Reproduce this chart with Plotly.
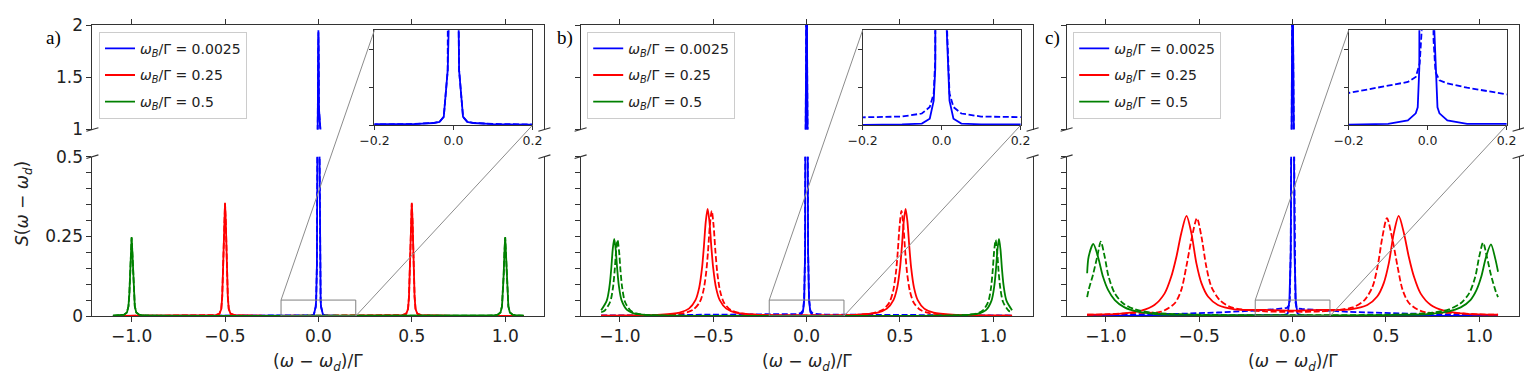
import plotly.graph_objects as go

# ---------------- data ----------------
# panel a
a_blue_x = [-1.1, -0.6, -0.3, -0.2, -0.1, -0.05, -0.035, -0.0244, -0.0144, -0.012, -0.008, -0.005, -0.003, -0.0015, 0,
            0.0015, 0.003, 0.005, 0.008, 0.012, 0.0144, 0.0244, 0.035, 0.05, 0.1, 0.2, 0.3, 0.6, 1.1]
a_blue_solid = [0.0001, 0.0002, 0.0003, 0.0003, 0.0006, 0.0012, 0.0018, 0.0044, 0.029, 0.05, 0.16, 0.6, 1.2, 1.75, 1.95,
                1.75, 1.2, 0.6, 0.16, 0.05, 0.029, 0.0044, 0.0018, 0.0012, 0.0006, 0.0003, 0.0003, 0.0002, 0.0001]
a_blue_dashed = [0.0001, 0.0002, 0.0003, 0.0004, 0.0007, 0.0013, 0.0019, 0.0045, 0.029, 0.05, 0.16, 0.59, 1.19, 1.73, 1.93,
                 1.73, 1.19, 0.59, 0.16, 0.05, 0.029, 0.0045, 0.0019, 0.0013, 0.0007, 0.0004, 0.0003, 0.0002, 0.0001]
a_red_x = [-1.1, -0.75, -0.62, -0.55, -0.53, -0.52, -0.515, -0.511, -0.508, -0.504, -0.5, -0.496, -0.492, -0.489, -0.485,
           -0.48, -0.47, -0.45, -0.38, -0.25, 0, 0.25, 0.38, 0.45, 0.47, 0.48, 0.485, 0.489, 0.492, 0.496, 0.5, 0.504,
           0.508, 0.511, 0.515, 0.52, 0.53, 0.55, 0.62, 0.75, 1.1]
a_red_solid = [0.0002, 0.0004, 0.001, 0.0025, 0.007, 0.022, 0.06, 0.13, 0.2, 0.30, 0.355, 0.30, 0.2, 0.13, 0.06,
               0.022, 0.007, 0.0025, 0.001, 0.0005, 0.0006, 0.0005, 0.001, 0.0025, 0.007, 0.022, 0.06, 0.13, 0.2, 0.30,
               0.355, 0.30, 0.2, 0.13, 0.06, 0.022, 0.007, 0.0025, 0.001, 0.0004, 0.0002]
a_red_dashed = [0.0002, 0.0004, 0.001, 0.0026, 0.0072, 0.023, 0.061, 0.13, 0.2, 0.297, 0.352, 0.297, 0.2, 0.13, 0.061,
                0.023, 0.0072, 0.0026, 0.001, 0.0005, 0.0006, 0.0005, 0.001, 0.0026, 0.0072, 0.023, 0.061, 0.13, 0.2,
                0.297, 0.352, 0.297, 0.2, 0.13, 0.061, 0.023, 0.0072, 0.0026, 0.001, 0.0004, 0.0002]
a_green_x = [-1.1, -1.07, -1.04, -1.025, -1.017, -1.012, -1.008, -1.004, -1.0, -0.996, -0.992, -0.988, -0.983, -0.975,
             -0.96, -0.93, -0.88, -0.6, 0, 0.6, 0.88, 0.93, 0.96, 0.975, 0.983, 0.988, 0.992, 0.996, 1.0, 1.004, 1.008,
             1.012, 1.017, 1.025, 1.04, 1.07, 1.1]
a_green_solid = [0.0008, 0.0015, 0.004, 0.011, 0.03, 0.07, 0.13, 0.2, 0.248, 0.2, 0.13, 0.07, 0.03, 0.011,
                 0.004, 0.0015, 0.0008, 0.0003, 0.0002, 0.0003, 0.0008, 0.0015, 0.004, 0.011, 0.03, 0.07, 0.13, 0.2,
                 0.248, 0.2, 0.13, 0.07, 0.03, 0.011, 0.004, 0.0015, 0.0008]
a_green_dashed = [0.0008, 0.0015, 0.0041, 0.0112, 0.031, 0.07, 0.129, 0.198, 0.245, 0.198, 0.129, 0.07, 0.031, 0.0112,
                  0.0041, 0.0015, 0.0008, 0.0003, 0.0002, 0.0003, 0.0008, 0.0015, 0.0041, 0.0112, 0.031, 0.07, 0.129,
                  0.198, 0.245, 0.198, 0.129, 0.07, 0.031, 0.0112, 0.0041, 0.0015, 0.0008]

# panel b
b_blue_x = [-1.1, -0.6, -0.3, -0.2, -0.1, -0.05, -0.03, -0.02, -0.016, -0.013, -0.008, -0.005, -0.003, -0.0015, 0,
            0.0015, 0.003, 0.005, 0.008, 0.013, 0.016, 0.02, 0.03, 0.05, 0.1, 0.2, 0.3, 0.6, 1.1]
b_blue_solid = [0.0001, 0.0001, 0.0002, 0.0002, 0.0005, 0.0009, 0.0035, 0.013, 0.03, 0.05, 0.2, 0.7, 1.6, 2.6, 3.0,
                2.6, 1.6, 0.7, 0.2, 0.05, 0.03, 0.013, 0.0035, 0.0009, 0.0005, 0.0002, 0.0002, 0.0001, 0.0001]
b_blue_dashed = [0.0015, 0.0028, 0.0038, 0.0042, 0.0046, 0.0062, 0.0096, 0.0167, 0.035, 0.055, 0.2, 0.7, 1.6, 2.5, 2.9,
                 2.5, 1.6, 0.7, 0.2, 0.055, 0.035, 0.0167, 0.0096, 0.0062, 0.0046, 0.0042, 0.0038, 0.0028, 0.0015]
b_red_solid_x = [-1.1, -0.93, -0.78, -0.68, -0.63, -0.595, -0.575, -0.56, -0.55, -0.54, -0.53, -0.52, -0.51, -0.50,
                 -0.485, -0.465, -0.43, -0.38, -0.28, -0.13, 0, 0.13, 0.28, 0.38, 0.43, 0.465, 0.485, 0.50, 0.51, 0.52,
                 0.53, 0.54, 0.55, 0.56, 0.575, 0.595, 0.63, 0.68, 0.78, 0.93, 1.1]
b_red_solid = [0.0009, 0.0016, 0.004, 0.0107, 0.0232, 0.0497, 0.089, 0.15, 0.217, 0.2955, 0.336, 0.2955, 0.217, 0.15,
               0.089, 0.0497, 0.0232, 0.0107, 0.0042, 0.0018, 0.0018, 0.0018, 0.0042, 0.0107, 0.0232, 0.0497, 0.089,
               0.15, 0.217, 0.2955, 0.336, 0.2955, 0.217, 0.15, 0.089, 0.0497, 0.0232, 0.0107, 0.004, 0.0016, 0.0009]
b_red_dashed_x = [-1.1, -0.908, -0.758, -0.658, -0.608, -0.573, -0.553, -0.538, -0.528, -0.518, -0.508, -0.498, -0.488,
                  -0.478, -0.463, -0.443, -0.408, -0.358, -0.258, -0.108, 0, 0.108, 0.258, 0.358, 0.408, 0.443, 0.463,
                  0.478, 0.488, 0.498, 0.508, 0.518, 0.528, 0.538, 0.553, 0.573, 0.608, 0.658, 0.758, 0.908, 1.1]
b_red_dashed = [0.0008, 0.0013, 0.0033, 0.0089, 0.0194, 0.0425, 0.078, 0.135, 0.201, 0.284, 0.330, 0.284, 0.201, 0.135,
                0.078, 0.0425, 0.0194, 0.0089, 0.0035, 0.0017, 0.0016, 0.0017, 0.0035, 0.0089, 0.0194, 0.0425, 0.078,
                0.135, 0.201, 0.284, 0.330, 0.284, 0.201, 0.135, 0.078, 0.0425, 0.0194, 0.0089, 0.0033, 0.0013, 0.0008]
b_green_solid_x = [-1.1, -1.07, -1.055, -1.046, -1.038, -1.03, -1.022, -1.014, -1.005, -0.99, -0.96, -0.93, -0.88,
                   -0.78, -0.58, 0, 0.58, 0.78, 0.88, 0.93, 0.96, 0.99, 1.005, 1.014, 1.022, 1.03, 1.038, 1.046, 1.055,
                   1.07, 1.1]
b_green_solid = [0.0183, 0.0484, 0.0945, 0.1476, 0.209, 0.242, 0.209, 0.1476, 0.0945, 0.0484, 0.0183, 0.0093, 0.0042,
                 0.0015, 0.0006, 0.0003, 0.0006, 0.0015, 0.0042, 0.0093, 0.0183, 0.0484, 0.0945, 0.1476, 0.209, 0.242,
                 0.209, 0.1476, 0.0945, 0.0484, 0.0183]
b_green_dashed_x = [-1.1, -1.082, -1.052, -1.037, -1.028, -1.02, -1.012, -1.004, -0.996, -0.987, -0.972, -0.942, -0.912,
                    -0.862, -0.762, -0.56, 0, 0.56, 0.762, 0.862, 0.912, 0.942, 0.972, 0.987, 0.996, 1.004, 1.012, 1.02,
                    1.028, 1.037, 1.052, 1.082, 1.1]
b_green_dashed = [0.0118, 0.0164, 0.0439, 0.0874, 0.1396, 0.2027, 0.2386, 0.2027, 0.1396, 0.0874, 0.0439, 0.0164,
                  0.0083, 0.0038, 0.0014, 0.0005, 0.0003, 0.0005, 0.0014, 0.0038, 0.0083, 0.0164, 0.0439, 0.0874,
                  0.1396, 0.2027, 0.2386, 0.2027, 0.1396, 0.0874, 0.0439, 0.0164, 0.0118]

# panel c
c_blue_solid_x = [-1.1, -0.5, -0.2, -0.1, -0.05, -0.03, -0.025, -0.021, -0.017, -0.01, -0.006, -0.003, 0, 0.003, 0.006,
                  0.01, 0.017, 0.021, 0.025, 0.03, 0.05, 0.1, 0.2, 0.5, 1.1]
c_blue_solid = [0.0001, 0.0002, 0.0004, 0.0008, 0.0026, 0.0063, 0.0095, 0.03, 0.05, 0.2, 0.7, 1.8, 3.0, 1.8, 0.7, 0.2,
                0.05, 0.03, 0.0095, 0.0063, 0.0026, 0.0008, 0.0004, 0.0002, 0.0001]
c_blue_dashed_x = [-1.1, -0.8, -0.6, -0.4, -0.3, -0.2, -0.1, -0.05, -0.03, -0.02, -0.015, -0.01, -0.006, -0.003, 0,
                   0.003, 0.006, 0.01, 0.015, 0.02, 0.03, 0.05, 0.1, 0.2, 0.3, 0.4, 0.6, 0.8, 1.1]
c_blue_dashed = [0.003, 0.005, 0.007, 0.011, 0.013, 0.017, 0.021, 0.0228, 0.0254, 0.0326, 0.05, 0.2, 0.7, 1.8, 3.0,
                 1.8, 0.7, 0.2, 0.045, 0.028, 0.0237, 0.022, 0.0198, 0.0163, 0.013, 0.011, 0.007, 0.005, 0.003]
c_red_solid_x = [-1.1, -1.0, -0.9, -0.81, -0.74, -0.685, -0.65, -0.622, -0.596, -0.568, -0.542, -0.515, -0.488, -0.453,
                 -0.4, -0.31, -0.15, 0, 0.15, 0.31, 0.4, 0.453, 0.488, 0.515, 0.542, 0.568, 0.596, 0.622, 0.65, 0.685,
                 0.74, 0.81, 0.9, 1.0, 1.1]
c_red_solid = [0.004, 0.0048, 0.0085, 0.0167, 0.0345, 0.071, 0.123, 0.186, 0.26, 0.314, 0.26, 0.165, 0.103, 0.061,
               0.0345, 0.021, 0.019, 0.017, 0.019, 0.021, 0.0345, 0.061, 0.103, 0.165, 0.26, 0.314, 0.26, 0.186, 0.123,
               0.071, 0.0345, 0.0167, 0.0085, 0.0048, 0.004]
c_red_dashed_x = [-1.1, -1.0, -0.866, -0.703, -0.631, -0.596, -0.569, -0.542, -0.512, -0.488, -0.462, -0.435, -0.39,
                  -0.328, -0.15, 0, 0.15, 0.322, 0.385, 0.428, 0.455, 0.481, 0.505, 0.535, 0.562, 0.589, 0.624, 0.696,
                  0.86, 1.0, 1.1]
c_red_dashed = [0.004, 0.005, 0.0094, 0.0136, 0.04, 0.082, 0.155, 0.239, 0.307, 0.249, 0.155, 0.092, 0.05, 0.027, 0.0145,
                0.0135, 0.0145, 0.027, 0.05, 0.092, 0.155, 0.249, 0.307, 0.239, 0.155, 0.082, 0.04, 0.0136, 0.0094,
                0.005, 0.004]
c_green_solid_x = [-1.1, -1.092, -1.067, -1.042, -1.015, -0.988, -0.952, -0.9, -0.828, -0.738, -0.5, 0, 0.5, 0.738,
                   0.828, 0.9, 0.952, 0.985, 1.01, 1.036, 1.062, 1.085, 1.1]
c_green_solid = [0.134, 0.186, 0.226, 0.186, 0.123, 0.082, 0.05, 0.027, 0.0135, 0.0063, 0.003, 0.002, 0.003, 0.0063,
                 0.0135, 0.027, 0.05, 0.082, 0.123, 0.186, 0.225, 0.18, 0.139]
c_green_dashed_x = [-1.1, -1.092, -1.069, -1.046, -1.027, -1.006, -0.985, -0.952, -0.908, -0.845, -0.756, -0.5, 0, 0.5,
                    0.75, 0.838, 0.9, 0.945, 0.978, 0.999, 1.02, 1.04, 1.062, 1.085, 1.1]
c_green_dashed = [0.059, 0.082, 0.129, 0.186, 0.233, 0.186, 0.123, 0.071, 0.04, 0.021, 0.0105, 0.004, 0.003, 0.004,
                  0.0105, 0.021, 0.04, 0.071, 0.123, 0.186, 0.23, 0.186, 0.129, 0.082, 0.059]

# labels / ticks
panel_labels = ["a)", "b)", "c)"]
legend_values = ["0.0025", "0.25", "0.5"]
series_colors = ["#0000ff", "#ff0000", "#008000"]
main_xticks = [-1.0, -0.5, 0.0, 0.5, 1.0]
main_xticktext = ["\u22121.0", "\u22120.5", "0.0", "0.5", "1.0"]
upper_yticks = [1, 1.5, 2]
upper_yticktext = ["1", "1.5", "2"]
lower_yticks = [0, 0.25, 0.5]
lower_yticktext = ["0", "0.25", "0.5"]
lower_minor_yticks = [0.05, 0.1, 0.15, 0.2, 0.3, 0.35, 0.4, 0.45]
inset_xticks = [-0.2, 0.0, 0.2]
inset_xticktext = ["\u22120.2", "0.0", "0.2"]
inset_yticks = [0, 0.02, 0.04]

main_xrange = [-1.21, 1.21]
upper_yrange = [1, 2]
lower_yrange = [0, 0.5]
inset_xrange = [-0.2, 0.2]
inset_yrange = [0, 0.05]

panels = [
    dict(blue=(a_blue_x, a_blue_solid, a_blue_x, a_blue_dashed),
         red=(a_red_x, a_red_solid, a_red_x, a_red_dashed),
         green=(a_green_x, a_green_solid, a_green_x, a_green_dashed), smooth=False),
    dict(blue=(b_blue_x, b_blue_solid, b_blue_x, b_blue_dashed),
         red=(b_red_solid_x, b_red_solid, b_red_dashed_x, b_red_dashed),
         green=(b_green_solid_x, b_green_solid, b_green_dashed_x, b_green_dashed), smooth=True),
    dict(blue=(c_blue_solid_x, c_blue_solid, c_blue_dashed_x, c_blue_dashed),
         red=(c_red_solid_x, c_red_solid, c_red_dashed_x, c_red_dashed),
         green=(c_green_solid_x, c_green_solid, c_green_dashed_x, c_green_dashed), smooth=True),
]

# ---------------- layout geometry (reference-image pixels) ----------------
PAGE_OFF = 8                      # page body margin
W, H = 1532 - 2 * PAGE_OFF, 389 - 2 * PAGE_OFF
PANEL_LEFT = [92.4, 580.6, 1066.6]
PANEL_W = 452.0
Y_TOP, Y_UP_BOT, Y_LOW_TOP, Y_BOT = 25.0, 129.5, 156.7, 316.0
INSET_REL = (282.0, 440.0)
INSET_Y = (30.3, 125.3)
LEGEND_REL_X, LEGEND_TOP = 6.6, 31.7

LINE_W = 1.8
DASH = "6px,2.6px"
AX_COLOR = "#333333"
TXT_COLOR = "#222222"
FONT = "DejaVu Sans"


def fx(p):
    return (p - PAGE_OFF) / W


def fy(p):
    return 1 - (p - PAGE_OFF) / H


def ref(n):
    return ("x" if n == 1 else f"x{n}"), ("y" if n == 1 else f"y{n}")


def key(n):
    return ("xaxis" if n == 1 else f"xaxis{n}"), ("yaxis" if n == 1 else f"yaxis{n}")


fig = go.Figure()
layout = dict(width=W, height=H, margin=dict(l=0, r=0, t=0, b=0, pad=0, autoexpand=False),
              paper_bgcolor="white", plot_bgcolor="white", showlegend=True)
shapes, annotations = [], []

axis_common = dict(showgrid=False, zeroline=False, showline=True, linecolor=AX_COLOR, linewidth=1,
                   ticks="outside", ticklen=5, tickwidth=1, tickcolor=AX_COLOR, automargin=False,
                   tickfont=dict(family=FONT, size=17, color=TXT_COLOR))

names = ["blue", "red", "green"]
legend_names = ["legend", "legend2", "legend3"]

for i, pdata in enumerate(panels):
    L = PANEL_LEFT[i]
    R = L + PANEL_W
    nlow, nup, nin = 3 * i + 1, 3 * i + 2, 3 * i + 3
    xl, yl = ref(nlow)
    xu, yu = ref(nup)
    xi, yi = ref(nin)
    kxl, kyl = key(nlow)
    kxu, kyu = key(nup)
    kxi, kyi = key(nin)
    xdom = [fx(L), fx(R)]

    layout[kxl] = dict(axis_common, domain=xdom, range=main_xrange, anchor=yl,
                       tickvals=main_xticks, ticktext=main_xticktext)
    layout[kyl] = dict(axis_common, domain=[fy(Y_BOT), fy(Y_LOW_TOP)], range=lower_yrange, anchor=xl,
                       mirror=True, tickvals=lower_yticks, ticktext=lower_yticktext,
                       showticklabels=(i == 0),
                       minor=dict(tickvals=lower_minor_yticks, ticks="outside", ticklen=5, tickwidth=1,
                                  tickcolor=AX_COLOR, showgrid=False))
    layout[kxu] = dict(axis_common, domain=xdom, range=main_xrange, anchor=yu, side="top",
                       tickvals=main_xticks, showticklabels=False)
    layout[kyu] = dict(axis_common, domain=[fy(Y_UP_BOT), fy(Y_TOP)], range=upper_yrange, anchor=xu,
                       mirror=True, tickvals=upper_yticks, ticktext=upper_yticktext,
                       showticklabels=(i == 0))
    layout[kxi] = dict(axis_common, domain=[fx(L + INSET_REL[0]), fx(L + INSET_REL[1])], range=inset_xrange,
                       anchor=yi, mirror=True, tickvals=inset_xticks, ticktext=inset_xticktext,
                       tickfont=dict(family=FONT, size=12.5, color=TXT_COLOR), ticklen=4)
    layout[kyi] = dict(axis_common, domain=[fy(INSET_Y[1]), fy(INSET_Y[0])], range=inset_yrange, anchor=xi,
                       mirror=True, tickvals=inset_yticks, showticklabels=False, ticklen=4)

    lg = legend_names[i]
    for c, name in enumerate(names):
        sx, sy, dx, dy = pdata[name]
        col = series_colors[c]
        shape = "spline" if (pdata["smooth"] and name != "blue") else "linear"
        label = f"<i>ω</i><sub><i>B</i></sub>/Γ = {legend_values[c]}"
        fig.add_trace(go.Scatter(x=sx, y=sy, mode="lines",
                                 line=dict(color=col, width=LINE_W, shape=shape, smoothing=0.8),
                                 xaxis=xl, yaxis=yl, name=label, legend=lg, legendgroup=f"{lg}{c}",
                                 showlegend=True, hoverinfo="skip"))
        fig.add_trace(go.Scatter(x=dx, y=dy, mode="lines",
                                 line=dict(color=col, width=LINE_W, dash=DASH, shape=shape, smoothing=0.8),
                                 xaxis=xl, yaxis=yl, showlegend=False, hoverinfo="skip"))
        if name == "blue":
            for (tx, ty, dash) in [(sx, sy, "solid"), (dx, dy, DASH)]:
                fig.add_trace(go.Scatter(x=tx, y=ty, mode="lines", line=dict(color=col, width=LINE_W, dash=dash),
                                         xaxis=xu, yaxis=yu, showlegend=False, hoverinfo="skip"))
                fig.add_trace(go.Scatter(x=tx, y=ty, mode="lines", line=dict(color=col, width=LINE_W, dash=dash),
                                         xaxis=xi, yaxis=yi, showlegend=False, hoverinfo="skip"))

    layout[lg] = dict(x=fx(L + LEGEND_REL_X), y=fy(LEGEND_TOP), xanchor="left", yanchor="top",
                      bgcolor="rgba(255,255,255,0.85)", bordercolor="#cccccc", borderwidth=1,
                      font=dict(family=FONT, size=14, color=TXT_COLOR), tracegroupgap=5.5, itemwidth=30)

    # zoom rectangle on the lower axes
    shapes.append(dict(type="rect", xref=xl, yref=yl, x0=inset_xrange[0], x1=inset_xrange[1],
                       y0=inset_yrange[0], y1=inset_yrange[1], line=dict(color="#808080", width=1),
                       layer="above"))

    # connector lines (data -> paper)
    def main_to_paper(xv, yv):
        px_ = fx(L) + (xv - main_xrange[0]) / (main_xrange[1] - main_xrange[0]) * (fx(R) - fx(L))
        py_ = fy(Y_BOT) + (yv - lower_yrange[0]) / (lower_yrange[1] - lower_yrange[0]) * (fy(Y_LOW_TOP) - fy(Y_BOT))
        return px_, py_

    p1 = main_to_paper(inset_xrange[0], inset_yrange[1])
    p2 = main_to_paper(inset_xrange[1], inset_yrange[0])
    ix0, ix1 = fx(L + INSET_REL[0]), fx(L + INSET_REL[1])
    iy0, iy1 = fy(INSET_Y[1]), fy(INSET_Y[0])
    shapes.append(dict(type="line", xref="paper", yref="paper", x0=p1[0], y0=p1[1], x1=ix0, y1=iy1,
                       line=dict(color="#8c8c8c", width=1), layer="above"))
    shapes.append(dict(type="line", xref="paper", yref="paper", x0=p2[0], y0=p2[1], x1=ix1, y1=iy0,
                       line=dict(color="#8c8c8c", width=1), layer="above"))

    # break marks
    for sxp in (L, R):
        for yb in (Y_UP_BOT, Y_LOW_TOP):
            shapes.append(dict(type="line", xref="paper", yref="paper",
                               x0=fx(sxp - 6), y0=fy(yb + 1.8), x1=fx(sxp + 6), y1=fy(yb - 1.8),
                               line=dict(color=AX_COLOR, width=1.2)))

    # x-axis title
    annotations.append(dict(text="(<i>ω</i> − <i>ω</i><sub><i>d</i></sub>)/Γ", xref="paper", yref="paper",
                            x=fx((L + R) / 2), y=fy(362), xanchor="center", yanchor="middle", showarrow=False,
                            font=dict(family=FONT, size=17, color=TXT_COLOR)))

# panel letters
letter_x = [53, 564.5, 1052]
for i, t in enumerate(panel_labels):
    annotations.append(dict(text=t, xref="paper", yref="paper", x=fx(letter_x[i]), y=fy(38),
                            xanchor="center", yanchor="middle", showarrow=False,
                            font=dict(family="Liberation Serif", size=19, color="#000000")))

# y-axis title
annotations.append(dict(text="<i>S</i>(<i>ω</i> − <i>ω</i><sub><i>d</i></sub>)", xref="paper", yref="paper",
                        x=fx(23), y=fy(204), xanchor="center", yanchor="middle", textangle=-90, showarrow=False,
                        font=dict(family=FONT, size=17, color=TXT_COLOR)))

layout["shapes"] = shapes
layout["annotations"] = annotations
fig.update_layout(**layout)
fig.write_html("out.html")
